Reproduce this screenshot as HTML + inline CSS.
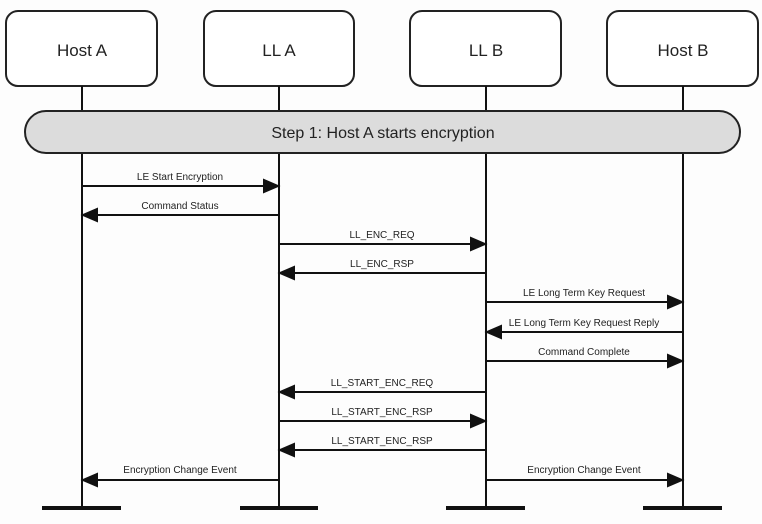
<!DOCTYPE html>
<html><head><style>body{margin:0;background:#fdfdfd}</style></head><body>
<svg width="762" height="519" xmlns="http://www.w3.org/2000/svg" font-family="Liberation Sans, sans-serif">
<rect width="762" height="519" fill="#fdfdfd"/>
<g fill="#fff" stroke="#222" stroke-width="2">
<rect x="6" y="11" width="151" height="75" rx="12"/>
<rect x="204" y="11" width="150" height="75" rx="12"/>
<rect x="410" y="11" width="151" height="75" rx="12"/>
<rect x="607" y="11" width="151" height="75" rx="12"/>
</g>
<g font-size="17" text-anchor="middle" fill="#222">
<text x="82" y="56">Host A</text><text x="279" y="56">LL A</text><text x="486" y="56">LL B</text><text x="683" y="56">Host B</text>
</g>
<g stroke="#111" stroke-width="2">
<line x1="82" y1="86" x2="82" y2="508"/><line x1="279" y1="86" x2="279" y2="508"/>
<line x1="486" y1="86" x2="486" y2="508"/><line x1="683" y1="86" x2="683" y2="508"/>
</g>
<g stroke="#111" stroke-width="4">
<line x1="42" y1="508" x2="121" y2="508"/><line x1="240" y1="508" x2="318" y2="508"/>
<line x1="446" y1="508" x2="525" y2="508"/><line x1="643" y1="508" x2="722" y2="508"/>
</g>
<rect x="25" y="111" width="715" height="42" rx="21" fill="#dcdcdc" stroke="#222" stroke-width="2"/>
<text x="383" y="138" font-size="16" text-anchor="middle" fill="#222">Step 1: Host A starts encryption</text>
<g stroke="#111" stroke-width="2" fill="#111" font-size="10" text-anchor="middle">
<line x1="82" y1="186" x2="266" y2="186"/><polygon points="278,186 264,180 264,192"/>
<line x1="95" y1="215" x2="279" y2="215"/><polygon points="83,215 97,209 97,221"/>
<line x1="279" y1="244" x2="473" y2="244"/><polygon points="485,244 471,238 471,250"/>
<line x1="292" y1="273" x2="486" y2="273"/><polygon points="280,273 294,267 294,279"/>
<line x1="486" y1="302" x2="670" y2="302"/><polygon points="682,302 668,296 668,308"/>
<line x1="499" y1="332" x2="683" y2="332"/><polygon points="487,332 501,326 501,338"/>
<line x1="486" y1="361" x2="670" y2="361"/><polygon points="682,361 668,355 668,367"/>
<line x1="292" y1="392" x2="486" y2="392"/><polygon points="280,392 294,386 294,398"/>
<line x1="279" y1="421" x2="473" y2="421"/><polygon points="485,421 471,415 471,427"/>
<line x1="292" y1="450" x2="486" y2="450"/><polygon points="280,450 294,444 294,456"/>
<line x1="95" y1="480" x2="279" y2="480"/><polygon points="83,480 97,474 97,486"/>
<line x1="486" y1="480" x2="670" y2="480"/><polygon points="682,480 668,474 668,486"/>
</g>
<g font-size="10" text-anchor="middle" fill="#222">
<text x="180" y="180">LE Start Encryption</text>
<text x="180" y="209">Command Status</text>
<text x="382" y="238">LL_ENC_REQ</text>
<text x="382" y="267">LL_ENC_RSP</text>
<text x="584" y="296">LE Long Term Key Request</text>
<text x="584" y="326">LE Long Term Key Request Reply</text>
<text x="584" y="355">Command Complete</text>
<text x="382" y="386">LL_START_ENC_REQ</text>
<text x="382" y="415">LL_START_ENC_RSP</text>
<text x="382" y="444">LL_START_ENC_RSP</text>
<text x="180" y="473">Encryption Change Event</text>
<text x="584" y="473">Encryption Change Event</text>
</g>
</svg>
</body></html>
